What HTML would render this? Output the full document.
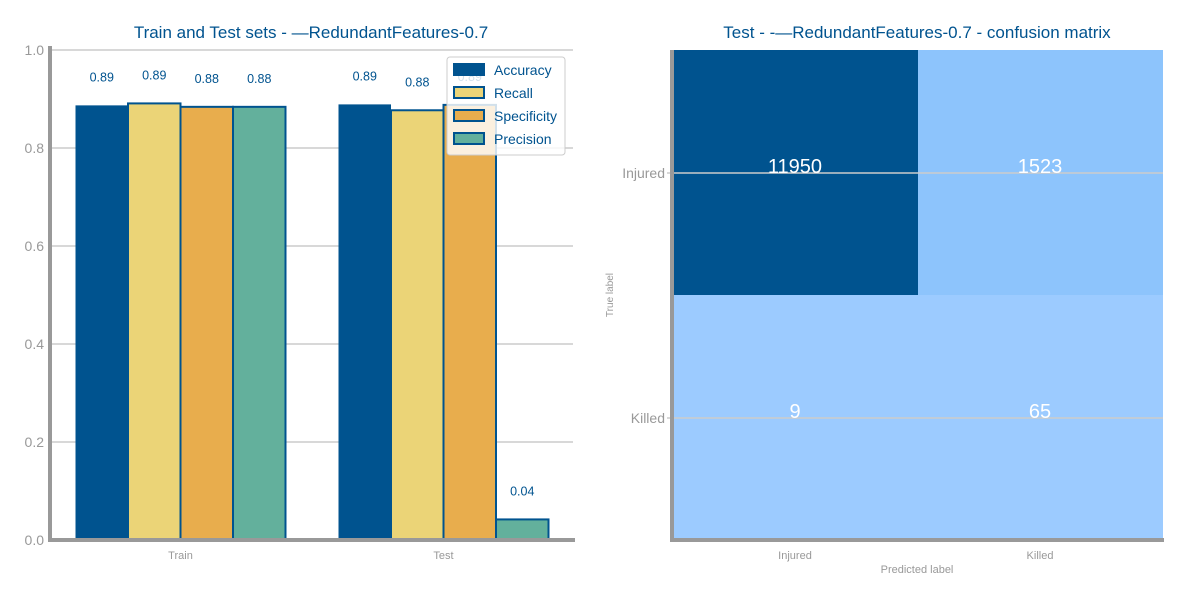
<!DOCTYPE html>
<html><head><meta charset="utf-8"><style>
body{margin:0;background:#fff;width:1200px;height:600px;overflow:hidden}
svg{font-family:"Liberation Sans",sans-serif}
</style></head><body>
<svg id="chart" width="1200" height="600">
<g id="left"></g>
<g id="right"></g>
</svg>
<script>
const groups = ["Train", "Test"];
const metrics = ["Accuracy", "Recall", "Specificity", "Precision"];
const trainValues = [0.887, 0.891, 0.884, 0.884];
const testValues = [0.889, 0.877, 0.888, 0.042];
const trainLabels = ["0.89", "0.89", "0.88", "0.88"];
const testLabels = ["0.89", "0.88", "0.89", "0.04"];
const yTicks = [0, 0.2, 0.4, 0.6, 0.8, 1.0];
const yTickLabels = ["0.0", "0.2", "0.4", "0.6", "0.8", "1.0"];
const cmRows = ["Injured", "Killed"];
const cmCols = ["Injured", "Killed"];
const cmValues = [[11950, 1523], [9, 65]];

const NS = "http://www.w3.org/2000/svg";
function mk(parent, tag, attrs, text) {
  const e = document.createElementNS(NS, tag);
  for (const k in attrs) e.setAttribute(k, attrs[k]);
  if (text !== undefined) e.textContent = text;
  parent.appendChild(e);
  return e;
}
const colors = ["#00538f", "#ebd477", "#e8ad4d", "#63b09c"];
const L = document.getElementById("left");
const x0 = 50, x1 = 573, yTop = 50, yBot = 540;
const yS = v => yBot - v * (yBot - yTop);
const groupCenter = i => 180.5 + i * 263;
const bw = 52.5;

yTicks.forEach((t, i) => {
  const g = mk(L, "line", {x1: x0, x2: x1, y1: yS(t), y2: yS(t), stroke: "#cccccc", "stroke-width": 1.5});
  
  
  const tl = mk(L, "text", {x: x0 - 6, y: yS(t) + 5, "text-anchor": "end", "font-size": 14, fill: "#999"}, yTickLabels[i]);
  
  
});

[trainValues, testValues].forEach((vals, gi) => {
  const labs = gi === 0 ? trainLabels : testLabels;
  vals.forEach((v, mi) => {
    const bx = groupCenter(gi) - 2 * bw + mi * bw;
    const r = mk(L, "rect", {x: bx, y: yS(v), width: bw, height: yBot - yS(v), fill: colors[mi], stroke: "#00538f", "stroke-width": mi === 0 ? 0 : 2});
    
    
    const t = mk(L, "text", {x: bx + bw / 2, y: yS(v) - 24, "text-anchor": "middle", "font-size": 12.5, fill: "#00538f"}, labs[mi]);
    
    
  });
  const gl = mk(L, "text", {x: groupCenter(gi), y: 559, "text-anchor": "middle", "font-size": 11, fill: "#999"}, groups[gi]);
  
  
});
let ax = mk(L, "line", {x1: x0, x2: x0, y1: 46, y2: 542, stroke: "#999", "stroke-width": 4});


ax = mk(L, "line", {x1: 48, x2: 575, y1: yBot, y2: yBot, stroke: "#999", "stroke-width": 4});


let tt = mk(L, "text", {x: 311, y: 38, "text-anchor": "middle", "font-size": 17, fill: "#00538f"}, "Train and Test sets - —RedundantFeatures-0.7");



// legend
const lg = mk(L, "g", {});


mk(lg, "rect", {x: 447, y: 57, width: 118, height: 98, rx: 3, fill: "rgba(255,255,255,0.82)", stroke: "#ccc", "stroke-width": 1});
metrics.forEach((m, i) => {
  const e = mk(lg, "g", {});
  
  
  mk(e, "rect", {x: 454, y: 64 + i * 23, width: 30, height: 11, fill: colors[i], stroke: "#00538f", "stroke-width": 2});
  mk(e, "text", {x: 494, y: 75 + i * 23, "font-size": 14, fill: "#00538f"}, m);
});

// confusion matrix
const R = document.getElementById("right");
const cx0 = 673, cy0 = 50, cs = 245;
const maxV = 11950;
function cellColor(v) {
  if (v === maxV) return "#00538f";
  if (v > 1000) return "#8dc4fc";
  return "#9ccbff";
}
cmValues.forEach((row, ri) => row.forEach((v, ci) => {
  const c = mk(R, "rect", {x: cx0 + ci * cs, y: cy0 + ri * cs, width: cs, height: cs, fill: cellColor(v)});
  
  
}));
cmRows.forEach((r, ri) => {
  const y = cy0 + ri * cs + 123;
  const g = mk(R, "line", {x1: cx0 - 6, x2: cx0 + 2 * cs, y1: y, y2: y, stroke: "#cccccc", "stroke-width": 1.5});
  
  
  const l = mk(R, "text", {x: 665, y: y + 5, "text-anchor": "end", "font-size": 14, fill: "#999"}, r);
  
  
});
cmValues.forEach((row, ri) => row.forEach((v, ci) => {
  const t = mk(R, "text", {x: cx0 + ci * cs + 122, y: cy0 + ri * cs + 123, "text-anchor": "middle", "font-size": 20, fill: "#fff"}, String(v));
  
  
}));
cmCols.forEach((c, ci) => {
  const t = mk(R, "text", {x: cx0 + ci * cs + 122, y: 559, "text-anchor": "middle", "font-size": 11, fill: "#999"}, c);
  
  
});
ax = mk(R, "line", {x1: 672, x2: 672, y1: 50, y2: 542, stroke: "#999", "stroke-width": 4});


ax = mk(R, "line", {x1: 670, x2: 1164, y1: 540, y2: 540, stroke: "#999", "stroke-width": 4});


tt = mk(R, "text", {x: 917, y: 573, "text-anchor": "middle", "font-size": 11, fill: "#999"}, "Predicted label");


tt = mk(R, "text", {x: 613, y: 295, "text-anchor": "middle", "font-size": 10, fill: "#999", transform: "rotate(-90 613 295)"}, "True label");


tt = mk(R, "text", {x: 917, y: 38, "text-anchor": "middle", "font-size": 17, fill: "#00538f"}, "Test - -—RedundantFeatures-0.7 - confusion matrix");


</script>
</body></html>
